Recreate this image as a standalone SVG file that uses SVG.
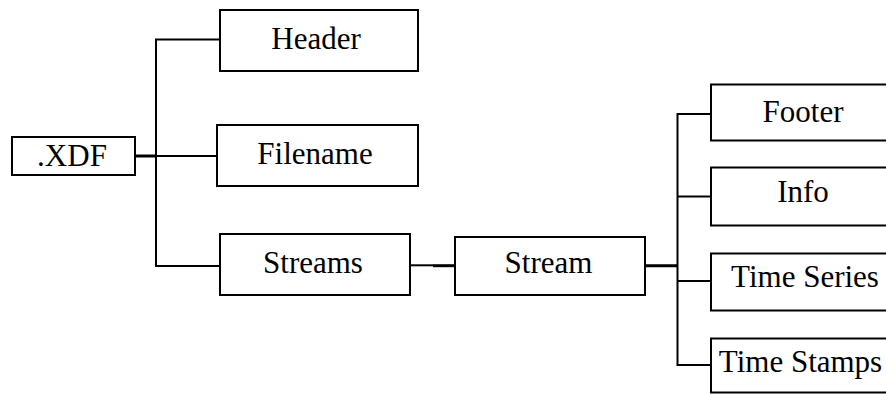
<svg xmlns="http://www.w3.org/2000/svg" width="886" height="394" viewBox="0 0 886 394">
<style>
.box{fill:#fff;stroke:#000;stroke-width:2}
.lbl{font-family:"Liberation Serif","Times New Roman",serif;font-size:31px;fill:#000;text-anchor:middle}
.c{fill:none;stroke:#000;stroke-width:2}
.ct{fill:none;stroke:#000;stroke-width:3}
</style>
<rect width="886" height="394" fill="#fff"/>
<g id="connectors">
<path class="ct" d="M135 156H156"/>
<path class="c" d="M220 39.5H156V266H220M156 156H217"/>
<path class="c" d="M410 265.3H433"/>
<path class="ct" d="M433 265.7H455"/>
<path class="ct" d="M645 265.7H677.5"/>
<path class="c" d="M711 114H677.5V365H711M677.5 196.5H711M677.5 281H711"/>
</g>
<g id="xdf"><rect class="box" x="12" y="137" width="123" height="38"/><text class="lbl" x="72" y="166">.XDF</text></g>
<g id="header"><rect class="box" x="220" y="10" width="198" height="61"/><text class="lbl" x="316" y="49">Header</text></g>
<g id="filename"><rect class="box" x="217" y="125" width="201" height="61"/><text class="lbl" x="315" y="164">Filename</text></g>
<g id="streams"><rect class="box" x="220" y="234" width="190" height="61"/><text class="lbl" x="313" y="273">Streams</text></g>
<g id="stream"><rect class="box" x="455" y="237" width="190" height="58"/><text class="lbl" x="548.5" y="273">Stream</text></g>
<g id="footer"><rect class="box" x="711" y="84.5" width="200" height="56"/><text class="lbl" x="803" y="122">Footer</text></g>
<g id="info"><rect class="box" x="711" y="167.5" width="200" height="58"/><text class="lbl" x="803" y="202">Info</text></g>
<g id="timeseries"><rect class="box" x="711" y="253.5" width="200" height="57"/><text class="lbl" x="805" y="287">Time Series</text></g>
<g id="timestamps"><rect class="box" x="711" y="338.5" width="200" height="54"/><text class="lbl" x="800.5" y="372">Time Stamps</text></g>
</svg>
